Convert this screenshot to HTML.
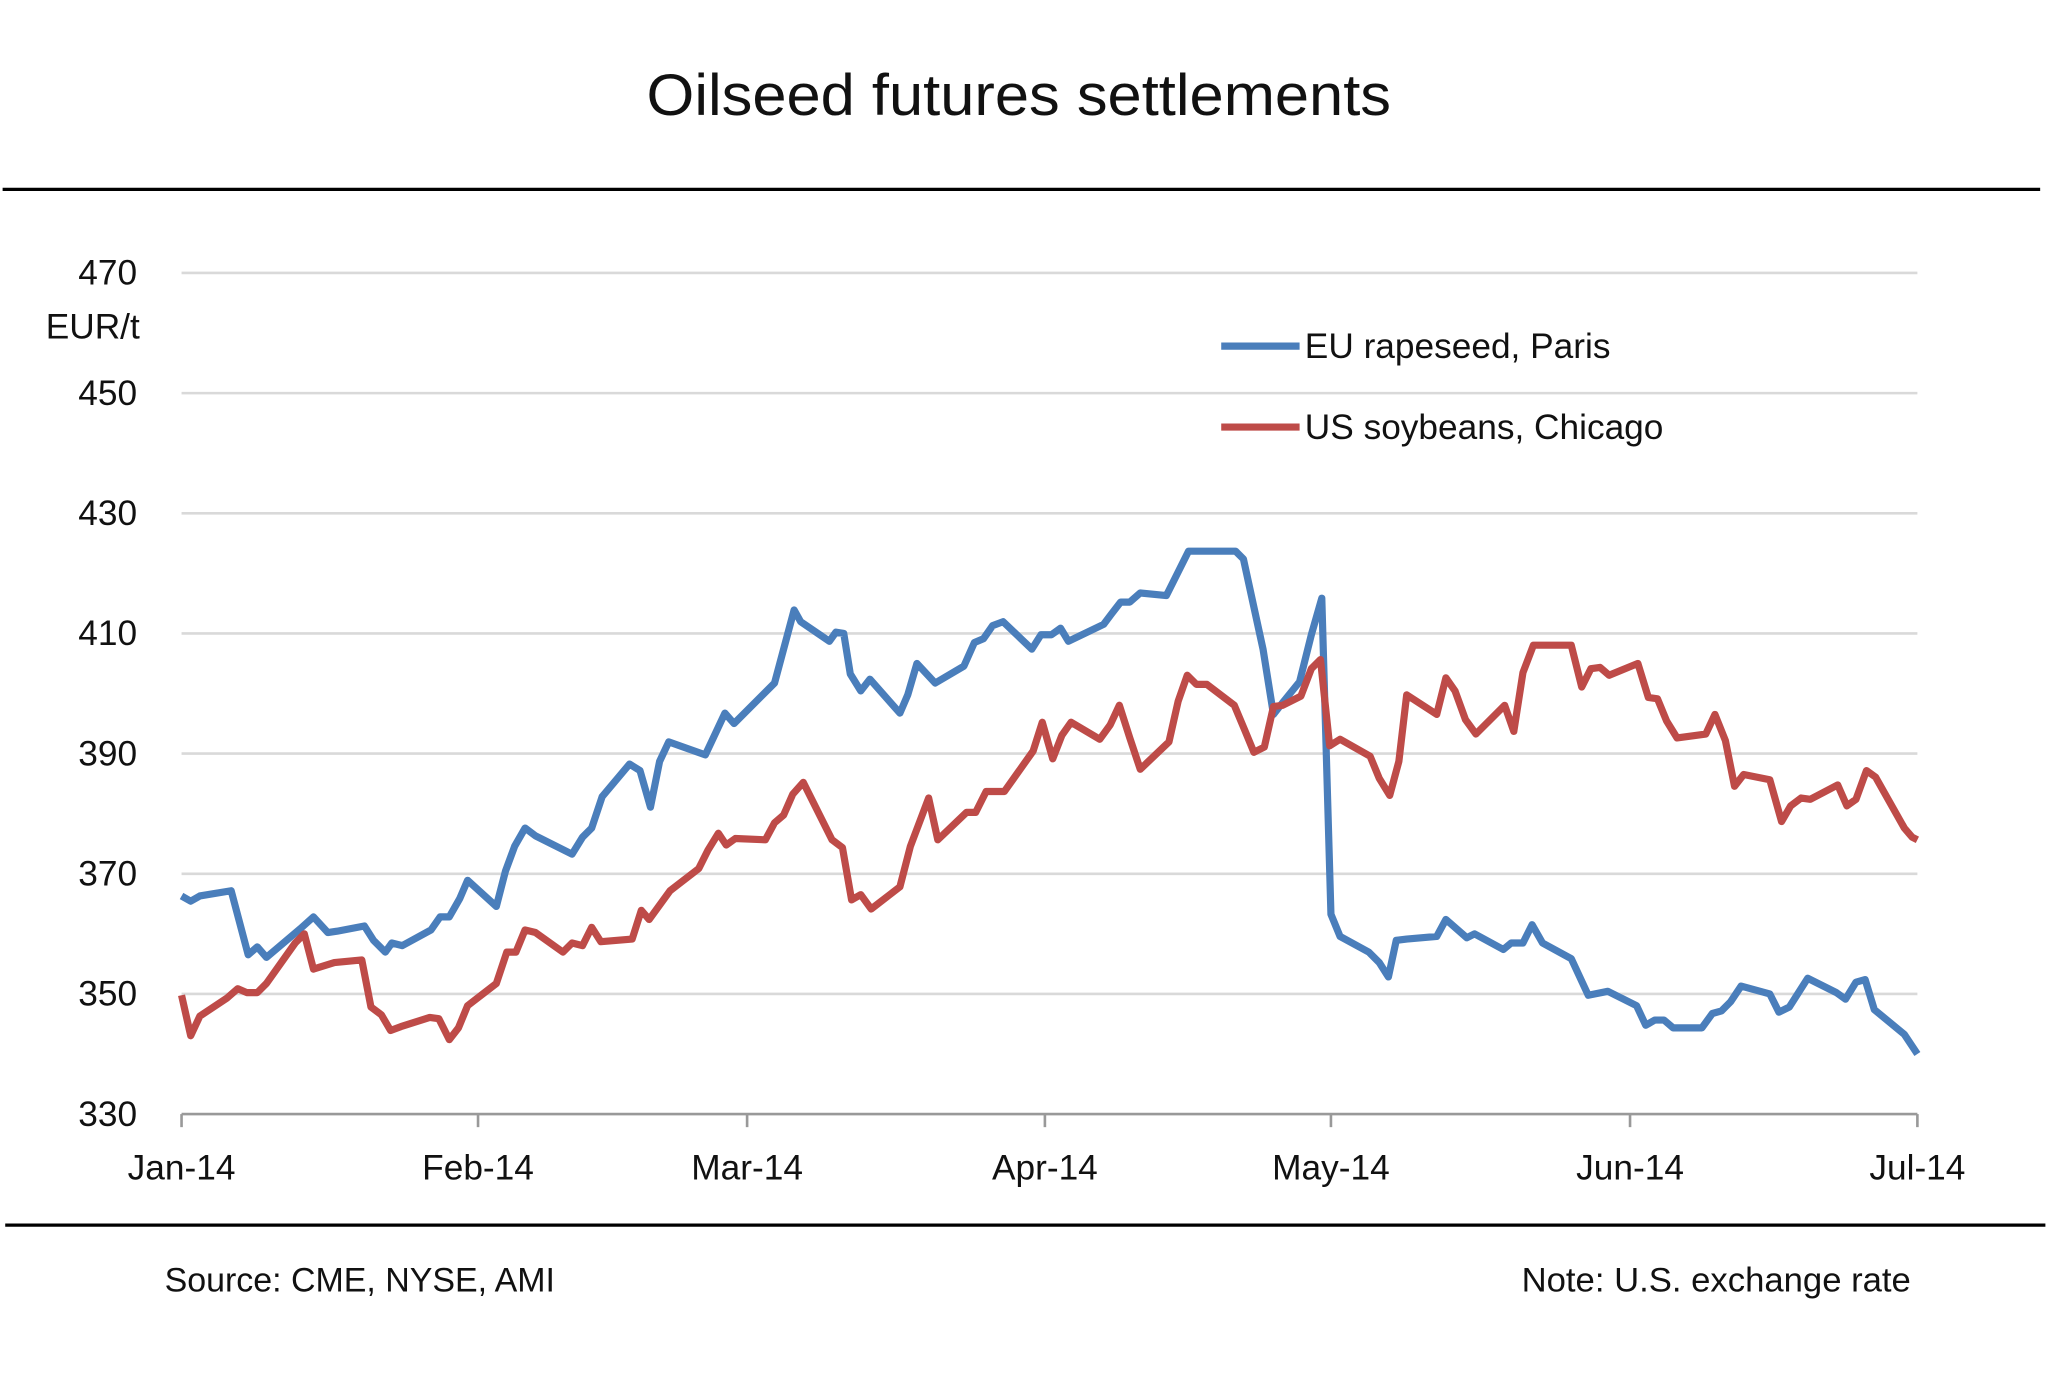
<!DOCTYPE html>
<html><head><meta charset="utf-8"><style>
html,body{margin:0;padding:0;background:#fff;}
svg{display:block;}
text{font-family:"Liberation Sans",sans-serif;fill:#111;}
</style></head><body>
<svg width="2048" height="1380" viewBox="0 0 1568 1056.6" preserveAspectRatio="none" xmlns="http://www.w3.org/2000/svg">
<text x="780" y="88" font-size="45" text-anchor="middle" textLength="570" lengthAdjust="spacingAndGlyphs">Oilseed futures settlements</text>
<line x1="2" y1="145" x2="1562" y2="145" stroke="#000" stroke-width="2.5"/>
<g stroke="#d9d9d9" stroke-width="2">
<line x1="139" y1="209" x2="1468" y2="209"/>
<line x1="139" y1="301" x2="1468" y2="301"/>
<line x1="139" y1="393" x2="1468" y2="393"/>
<line x1="139" y1="485" x2="1468" y2="485"/>
<line x1="139" y1="577" x2="1468" y2="577"/>
<line x1="139" y1="669" x2="1468" y2="669"/>
<line x1="139" y1="761" x2="1468" y2="761"/>
</g>
<g stroke="#999" stroke-width="2">
<line x1="139" y1="853" x2="1468" y2="853"/>
<line x1="139" y1="853" x2="139" y2="863"/>
<line x1="366" y1="853" x2="366" y2="863"/>
<line x1="572" y1="853" x2="572" y2="863"/>
<line x1="800" y1="853" x2="800" y2="863"/>
<line x1="1019" y1="853" x2="1019" y2="863"/>
<line x1="1248" y1="853" x2="1248" y2="863"/>
<line x1="1468" y1="853" x2="1468" y2="863"/>
</g>
<g font-size="27" text-anchor="end">
<text x="105" y="218">470</text>
<text x="107" y="259">EUR/t</text>
<text x="105" y="310">450</text>
<text x="105" y="402">430</text>
<text x="105" y="494">410</text>
<text x="105" y="586">390</text>
<text x="105" y="678">370</text>
<text x="105" y="770">350</text>
<text x="105" y="862">330</text>
</g>
<g font-size="27" text-anchor="middle">
<text x="139" y="903">Jan-14</text>
<text x="366" y="903">Feb-14</text>
<text x="572" y="903">Mar-14</text>
<text x="800" y="903">Apr-14</text>
<text x="1019" y="903">May-14</text>
<text x="1248" y="903">Jun-14</text>
<text x="1468" y="903">Jul-14</text>
</g>
<polyline fill="none" stroke="#4a7ebb" stroke-width="5.5" stroke-linejoin="round" points="139,686 146,690 153,686 177,682 190,731 197,725 204,733 230,711 240,702 251,714 258,713 279,709 286,720 295,729 300,722 308,724 330,712 337,702 344,702 352,688 358,674 380,694 387,667 394,648 402,634 410,640 438,654 446,641 453,634 461,610 482,585 490,590 498,618 505,583 512,568 540,578 548,561 555,546 562,554 593,523 608,467 613,476 635,491 640,484 646,485 651,516 659,529 666,520 689,546 695,532 702,508 716,523 738,510 746,492 753,489 760,479 768,476 790,497 797,486 805,486 812,481 818,491 845,478 851,470 858,461 865,461 873,454 893,456 910,422 946,422 952,428 967,497 975,547 982,538 995,522 1004,486 1012,458 1019,700 1026,717 1048,729 1056,737 1063,748 1069,720 1077,719 1100,717 1107,704 1123,718 1129,715 1151,727 1157,722 1166,722 1173,708 1181,722 1203,734 1216,762 1231,759 1253,770 1260,785 1267,781 1274,781 1281,787 1303,787 1311,776 1318,774 1325,767 1333,755 1355,761 1362,775 1370,771 1384,749 1406,760 1413,765 1421,752 1428,750 1435,773 1458,792 1468,807"/>
<polyline fill="none" stroke="#be4b48" stroke-width="5.5" stroke-linejoin="round" points="139,762 146,793 153,778 174,764 182,757 189,760 197,760 204,753 226,722 233,715 240,742 256,737 277,735 284,771 292,777 299,789 307,786 329,779 336,780 344,796 351,787 358,770 380,753 388,729 395,729 402,712 410,714 431,729 438,722 446,724 453,710 460,721 484,719 491,697 497,704 513,682 535,665 542,651 550,638 556,647 563,642 586,643 593,630 600,624 607,608 615,599 637,643 645,649 652,689 659,685 667,696 689,679 697,648 711,611 718,643 740,622 747,622 755,606 769,606 791,575 798,553 806,581 813,563 820,553 842,566 850,555 857,540 865,565 873,589 895,568 902,537 909,517 916,524 924,524 945,540 953,559 960,576 968,572 975,541 982,540 996,533 1004,512 1011,505 1018,571 1026,566 1049,579 1056,596 1064,609 1071,583 1077,532 1100,547 1107,519 1114,529 1122,551 1130,562 1152,540 1159,560 1166,515 1174,494 1203,494 1211,526 1218,512 1225,511 1232,517 1254,508 1262,534 1269,535 1276,552 1284,565 1306,562 1313,547 1321,567 1328,602 1335,593 1355,597 1364,629 1371,617 1379,611 1386,612 1407,601 1414,617 1421,612 1429,590 1436,595 1458,634 1464,641 1468,643"/>
<line x1="935" y1="265" x2="995" y2="265" stroke="#4a7ebb" stroke-width="5.5"/>
<line x1="935" y1="327" x2="995" y2="327" stroke="#be4b48" stroke-width="5.5"/>
<text x="999" y="274" font-size="27">EU rapeseed,  Paris</text>
<text x="999" y="336" font-size="27">US soybeans, Chicago</text>
<line x1="4" y1="938" x2="1566" y2="938" stroke="#000" stroke-width="2.5"/>
<text x="126" y="989" font-size="26">Source: CME, NYSE, AMI</text>
<text x="1463" y="989" font-size="26" text-anchor="end" textLength="298" lengthAdjust="spacingAndGlyphs">Note: U.S. exchange rate</text>
</svg>
</body></html>
